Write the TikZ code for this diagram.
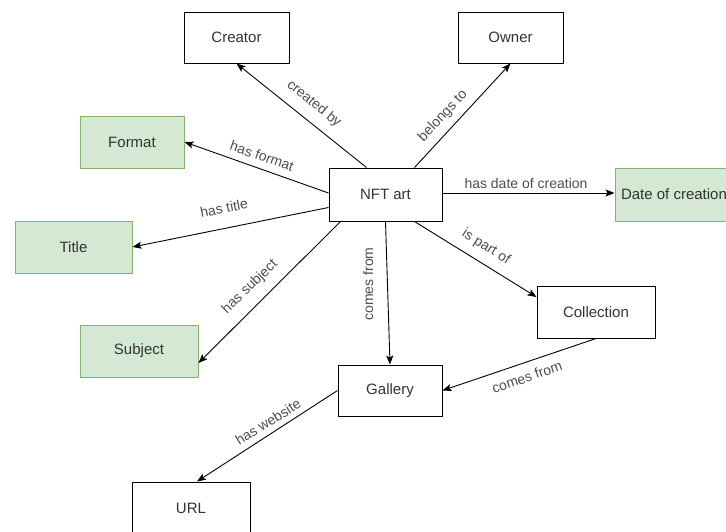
\documentclass[tikz,border=0pt]{standalone}
\usepackage{fontspec}
\setmainfont{Liberation Sans}
\usetikzlibrary{arrows.meta,calc}
\definecolor{gfill}{HTML}{D5E8D4}
\definecolor{gline}{HTML}{82B366}
\definecolor{txt}{HTML}{333333}
\definecolor{ltxt}{HTML}{4D4D4D}
\begin{document}
\begin{tikzpicture}[x=1pt,y=-1pt,
  box/.style={draw=black, line width=1pt, fill=white, minimum width=#1, minimum height=52pt, inner sep=0pt, text=txt, font=\fontsize{15}{18}\selectfont},
  box/.default=105pt,
  gbox/.style={box=#1, draw=gline, fill=gfill},
  lbl/.style={text=ltxt, font=\fontsize{14}{16}\selectfont, inner sep=0pt},
  arr/.style={line width=0.9pt, -{Stealth[length=9pt,width=7pt,inset=2pt]}}]
\useasboundingbox (0,0) rectangle (726,531);
\clip (0,0) rectangle (726,531);
% nodes
\node[box=105pt, minimum height=51pt] (creator) at (236.5,37.5) {Creator};
\node[box=105pt, minimum height=51pt] (owner) at (510.5,37.5) {Owner};
\node[gbox=104pt] (format) at (132,142) {Format};
\node[box=113pt, minimum height=53pt] (nft) at (385.5,194.5) {NFT art};
\node[gbox=118pt, minimum height=53pt] (date) at (674,194.5) {Date of creation};
\node[gbox=117pt] (title) at (73.5,247) {Title};
\node[box=118pt] (collection) at (596,312) {Collection};
\node[gbox=118pt] (subject) at (139,351) {Subject};
\node[box=104pt, minimum height=51pt] (gallery) at (390,390.5) {Gallery};
\node[box=118pt] (url) at (191,508) {URL};
% connectors
\draw[arr] ($(nft.north west)+(38,0)$) -- (creator.south);
\draw[arr] ($(nft.north east)+(-28,0)$) -- (owner.south);
\draw[arr] ($(nft.west)+(0,-1.5)$) -- (format.east);
\draw[arr] ($(nft.west)+(0,13)$) -- (title.east);
\draw[arr] ($(nft.south west)+(12,0)$) -- ($(subject.east)+(0,12)$);
\draw[arr] ($(nft.east)+(0,-1.5)$) -- ($(date.west)+(0,-1.5)$);
\draw[arr] ($(nft.south east)+(-28,0)$) -- ($(collection.west)+(0,-15)$);
\draw[arr] (nft.south) -- (gallery.north);
\draw[arr] (collection.south) -- (gallery.east);
\draw[arr] (gallery.west) -- ($(url.north)+(6,0)$);
% labels
\node[lbl, rotate=-39] (l1) at (314,104) {created by};
\node[lbl, rotate=47] (l2) at (443,116) {belongs to};
\node[lbl, rotate=-19] (l3) at (262,156) {has format};
\node[lbl, rotate=11] (l4) at (224,208) {has title};
\node[lbl, rotate=44] (l5) at (250,287) {has subject};
\node[lbl] (l6) at (526,183) {has date of creation};
\node[lbl, rotate=-32] (l7) at (486,247) {is part of};
\node[lbl, rotate=90] (l8) at (368,284) {comes from};
\node[lbl, rotate=19] (l9) at (527,377) {comes from};
\node[lbl, rotate=32] (l10) at (268,422) {has website};
\end{tikzpicture}
\end{document}
